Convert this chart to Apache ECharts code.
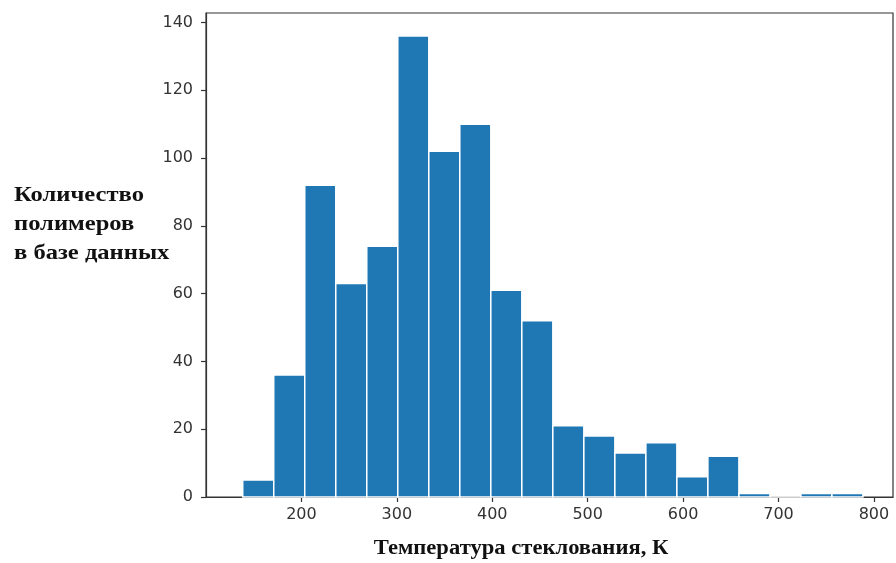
<!DOCTYPE html>
<html>
<head>
<meta charset="utf-8">
<script src="https://cdn.jsdelivr.net/npm/echarts@6/dist/echarts.min.js"></script>
<style>
html,body{margin:0;padding:0;background:#fff;}
#chart{width:896px;height:563px;}
</style>
</head>
<body>
<div id="chart"></div>
<script>
// Histogram bin edges (K) and counts
const binEdges = [138.5, 171, 203.5, 236, 268.5, 301, 333.5, 366, 398.5, 431, 463.5, 496, 528.5, 561, 593.5, 626, 658.5, 691, 723.5, 756, 788.5];
const counts = [5, 36, 92, 63, 74, 136, 102, 110, 61, 52, 21, 18, 13, 16, 6, 12, 1, 0, 1, 1];
const xTicks = [200, 300, 400, 500, 600, 700, 800];
const yTicks = [0, 20, 40, 60, 80, 100, 120, 140];
const xTitle = 'Температура стеклования, К';
const yTitleLines = ['Количество', 'полимеров', 'в базе данных'];

const data = counts.map((c, i) => [binEdges[i], binEdges[i + 1], c]);

const chart = echarts.init(document.getElementById('chart'), null, {renderer: 'canvas'});
const tickColor = '#333';
const axisCommon = {
  axisLine: {show: true, lineStyle: {color: '#333', width: 1.2}},
  axisTick: {show: true, inside: false, length: 5, lineStyle: {color: '#333', width: 1.2}},
  splitLine: {show: false}
};
chart.setOption({
  animation: false,
  backgroundColor: '#fff',
  grid: {left: 206, right: 3, top: 13, bottom: 66, show: true, borderColor: '#333', borderWidth: 1.2, backgroundColor: 'transparent'},
  xAxis: Object.assign({
    type: 'value', min: 100, max: 820, interval: 100,
    axisLabel: {
      fontSize: 16, color: tickColor, fontFamily: 'DejaVu Sans', margin: 10,
      showMaxLabel: false, showMinLabel: false,
      formatter: v => xTicks.includes(v) ? String(v) : ''
    }
  }, axisCommon),
  yAxis: Object.assign({
    type: 'value', min: 0, max: 142.8, interval: 20,
    axisLabel: {
      fontSize: 16, color: tickColor, fontFamily: 'DejaVu Sans', margin: 13,
      showMaxLabel: false,
      formatter: v => yTicks.includes(v) ? String(v) : ''
    }
  }, axisCommon),
  graphic: [
    {
      type: 'text', x: 14, y: 181, scaleX: 1.17,
      style: {text: yTitleLines.join('\n'), font: 'bold 21px "Liberation Serif"', lineHeight: 29, fill: '#111', textAlign: 'left', textVerticalAlign: 'top'}
    },
    {
      type: 'text', x: 521, y: 549, scaleX: 1.13,
      style: {text: xTitle, font: 'bold 20px "Liberation Serif"', fill: '#111', textAlign: 'center', textVerticalAlign: 'middle'}
    }
  ],
  series: [{
    type: 'custom',
    data: data,
    encode: {x: [0, 1], y: 2},
    renderItem: function (params, api) {
      const p0 = api.coord([api.value(0), api.value(2)]);
      const p1 = api.coord([api.value(1), 0]);
      return {
        type: 'rect',
        shape: {x: p0[0], y: p0[1], width: p1[0] - p0[0], height: p1[1] - p0[1]},
        style: {fill: '#1f77b4', stroke: '#ffffff', lineWidth: 1.5}
      };
    }
  }]
});
</script>
</body>
</html>
